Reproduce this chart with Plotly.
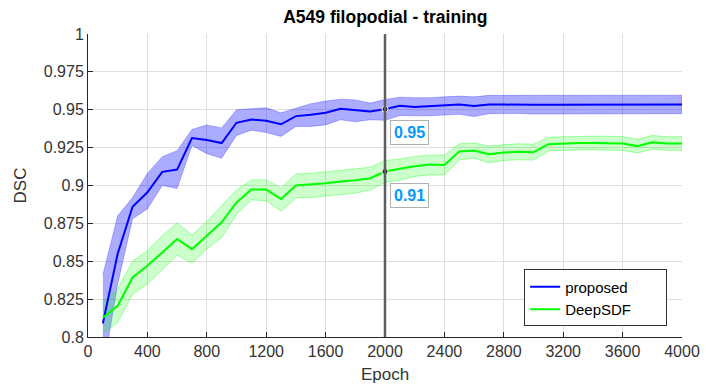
import plotly.graph_objects as go

# Training curves: mean DSC per epoch with min/max spread
epochs = list(range(100, 4001, 100))

proposed_mean = [0.809, 0.855, 0.886, 0.8955, 0.909, 0.9105, 0.9313, 0.930, 0.928, 0.9414,
                 0.9436, 0.9428, 0.9404, 0.9458, 0.9467, 0.948, 0.9507, 0.9497, 0.9489, 0.9504,
                 0.9527, 0.9518, 0.9523, 0.9527, 0.9534, 0.9525, 0.9534, 0.9534, 0.9536, 0.9533,
                 0.9533, 0.9533, 0.9533, 0.9533, 0.9533, 0.9531, 0.9533, 0.9533, 0.9535, 0.9535]
proposed_hi = [0.841, 0.880, 0.892, 0.908, 0.919, 0.923, 0.937, 0.940, 0.938, 0.950,
               0.9507, 0.9513, 0.948, 0.951, 0.954, 0.9557, 0.957, 0.9565, 0.9544, 0.9568,
               0.9583, 0.958, 0.958, 0.9585, 0.959, 0.9585, 0.9595, 0.9595, 0.9595, 0.9595,
               0.9595, 0.9595, 0.9595, 0.9595, 0.9595, 0.9593, 0.9595, 0.9595, 0.9596, 0.9596]
proposed_lo = [0.777, 0.835, 0.878, 0.8845, 0.900, 0.898, 0.9264, 0.921, 0.918, 0.933,
               0.9365, 0.935, 0.9324, 0.939, 0.939, 0.940, 0.9434, 0.942, 0.9434, 0.943,
               0.9462, 0.946, 0.946, 0.9465, 0.947, 0.9455, 0.9474, 0.9474, 0.9475, 0.9472,
               0.9472, 0.9472, 0.9472, 0.9472, 0.9472, 0.947, 0.9472, 0.9472, 0.9474, 0.9474]

deepsdf_mean = [0.8128, 0.8206, 0.8393, 0.847, 0.8558, 0.8647, 0.858, 0.8669, 0.8757, 0.8888,
                0.8973, 0.8973, 0.8911, 0.900, 0.9006, 0.9015, 0.9026, 0.9034, 0.9048, 0.9092,
                0.911, 0.9127, 0.9138, 0.9136, 0.9224, 0.9231, 0.9206, 0.9218, 0.9222, 0.922,
                0.9273, 0.9277, 0.928, 0.928, 0.928, 0.9277, 0.926, 0.9285, 0.9277, 0.9277]
deepsdf_hi = [0.8232, 0.8316, 0.850, 0.857, 0.8668, 0.8753, 0.8673, 0.8761, 0.8867, 0.897,
              0.9037, 0.9037, 0.8984, 0.9077, 0.908, 0.909, 0.910, 0.911, 0.912, 0.9165,
              0.9175, 0.919, 0.920, 0.920, 0.9275, 0.928, 0.926, 0.927, 0.9275, 0.9272,
              0.9318, 0.9322, 0.9325, 0.9325, 0.9325, 0.9322, 0.9305, 0.933, 0.9322, 0.9322]
deepsdf_lo = [0.8025, 0.8095, 0.8283, 0.835, 0.8447, 0.854, 0.8488, 0.8581, 0.8657, 0.881,
              0.8905, 0.890, 0.883, 0.8918, 0.892, 0.893, 0.894, 0.895, 0.897, 0.902,
              0.9035, 0.906, 0.907, 0.907, 0.917, 0.918, 0.915, 0.9165, 0.917, 0.9168,
              0.9228, 0.9232, 0.9235, 0.9235, 0.9235, 0.9232, 0.9215, 0.924, 0.9232, 0.9232]

cursor_epoch = 2000
y_ticks = [0.8, 0.825, 0.85, 0.875, 0.9, 0.925, 0.95, 0.975, 1.0]
y_tick_text = ["0.8", "0.825", "0.85", "0.875", "0.9", "0.925", "0.95", "0.975", "1"]
x_ticks = list(range(0, 4001, 400))

FONT = "Liberation Sans, Arial"
PAD = "&nbsp;" * 7  # trailing space inside the legend box

series = [
    ("proposed", proposed_mean, proposed_lo, proposed_hi, "#0000ff",
     "rgba(0,0,255,0.33)", "rgba(0,0,255,0.25)"),
    ("DeepSDF", deepsdf_mean, deepsdf_lo, deepsdf_hi, "#00ff00",
     "rgba(0,255,0,0.2)", "rgba(0,255,0,0.35)"),
]

fig = go.Figure()

# shaded spread bands first, then the mean curves on top
for name, mean, lo, hi, color, fill, edge in series:
    fig.add_trace(go.Scatter(
        x=epochs + epochs[::-1], y=hi + lo[::-1],
        fill="toself", fillcolor=fill, mode="lines",
        line=dict(color=edge, width=1), hoverinfo="skip", showlegend=False))

for name, mean, lo, hi, color, fill, edge in series:
    fig.add_trace(go.Scatter(
        x=epochs, y=mean, mode="lines", name=name + PAD,
        line=dict(color=color, width=2)))

# cursor line at the selected epoch
fig.add_shape(type="line", x0=cursor_epoch, x1=cursor_epoch, y0=0, y1=1,
              xref="x", yref="paper", line=dict(color="#5e5e5e", width=2.5))

idx = epochs.index(cursor_epoch)
tip_values = [proposed_mean[idx], deepsdf_mean[idx]]
fig.add_trace(go.Scatter(
    x=[cursor_epoch] * len(tip_values), y=tip_values, mode="markers",
    marker=dict(size=6, color="#262626", line=dict(color="white", width=1)),
    showlegend=False, hoverinfo="skip"))

for v in tip_values:
    fig.add_annotation(
        x=cursor_epoch, y=v, text=f"<b>{v:.2f}</b>", showarrow=False,
        xanchor="left", yanchor="top", xshift=5, yshift=-11,
        font=dict(family=FONT, size=16, color="#0099ff"),
        bgcolor="white", bordercolor="#b0b0b0", borderwidth=1, borderpad=3)

axis_font = dict(family=FONT, size=16, color="#333333")

fig.update_layout(
    width=707, height=384,
    margin=dict(l=88, r=25, t=34, b=47, autoexpand=False),
    paper_bgcolor="white", plot_bgcolor="white",
    title=dict(text="<b>A549 filopodial - training</b>", x=0.545, xanchor="center",
               y=0.955, yanchor="middle",
               font=dict(family=FONT, size=17.5, color="#000000")),
    legend=dict(x=0.975, y=0.035, xanchor="right", yanchor="bottom",
                bgcolor="white", bordercolor="#333333", borderwidth=1,
                font=dict(family=FONT, size=15, color="#000000"),
                tracegroupgap=0, itemwidth=30),
    showlegend=True,
)

fig.update_xaxes(
    range=[0, 4000], tickvals=x_ticks, ticks="inside", ticklen=5,
    tickcolor="#262626", showline=True, linecolor="#262626", linewidth=1,
    mirror=False, showgrid=True, gridcolor="#dedede", gridwidth=1, zeroline=False,
    tickfont=axis_font, automargin=False,
    title=dict(text="Epoch", standoff=9,
               font=dict(family=FONT, size=17, color="#333333")))

fig.update_yaxes(
    range=[0.8, 1.0], tickvals=y_ticks, ticktext=y_tick_text, ticks="inside", ticklen=5,
    tickcolor="#262626", showline=True, linecolor="#262626", linewidth=1,
    mirror=False, showgrid=True, gridcolor="#dedede", gridwidth=1, zeroline=False,
    tickfont=axis_font, automargin=False,
    title=dict(text="DSC", standoff=12,
               font=dict(family=FONT, size=17, color="#333333")))

fig.write_html("out.html")
